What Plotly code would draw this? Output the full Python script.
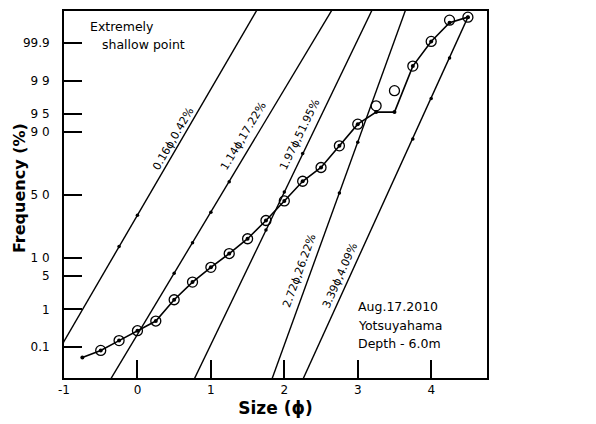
import plotly.graph_objects as go
from statistics import NormalDist

ND = NormalDist()

def z(pcts):
    return [ND.inv_cdf(p / 100.0) for p in pcts]

# ---- data (percent cumulative frequency vs size in phi) ----
size_main = [-0.75, -0.5, -0.25, 0.0, 0.25, 0.5, 0.75, 1.0, 1.25, 1.5, 1.75, 2.0,
             2.25, 2.5, 2.75, 3.0, 3.25, 3.5, 3.75, 4.0, 4.25, 4.5]
freq_main = [0.048, 0.079, 0.154, 0.29, 0.52, 1.66, 3.84, 7.08, 11.7, 18.7, 30.2, 45.2,
             61.0, 71.2, 84.1, 92.5, 95.4, 95.4, 99.56, 99.91, 99.977, 99.985]

size_circ = [-0.5, -0.25, 0.0, 0.25, 0.5, 0.75, 1.0, 1.25, 1.5, 1.75, 2.0,
             2.25, 2.5, 2.75, 3.0, 3.25, 3.5, 3.75, 4.0, 4.25, 4.5]
freq_circ = [0.079, 0.154, 0.29, 0.52, 1.66, 3.84, 7.08, 11.7, 18.7, 30.2, 45.2,
             61.0, 71.2, 84.1, 92.5, 96.5, 98.3, 99.56, 99.91, 99.981, 99.985]

# component populations (mean phi, weight %)
comp_labels = ["0.16ϕ,0.42%", "1.14ϕ,17.22%", "1.97ϕ,51.95%", "2.72ϕ,26.22%", "3.39ϕ,4.09%"]
comp1_size = [-1.1, -0.25, 0.0, 1.75]
comp1_freq = [0.062, 14.7, 34.1, 99.9977]
comp2_size = [-0.4, 0.5, 0.75, 1.0, 1.25, 2.75]
comp2_freq = [0.0064, 5.59, 16.6, 36.3, 60.6, 99.997]
comp3_size = [0.7, 1.75, 2.0, 2.25, 3.3]
comp3_freq = [0.0036, 23.9, 52.4, 80.0, 99.9978]
comp4_size = [1.8, 2.75, 3.0, 3.7]
comp4_freq = [0.0054, 51.6, 85.8, 99.9963]
comp5_size = [2.2, 3.75, 4.0, 4.25, 4.5]
comp5_freq = [0.0044, 87.3, 97.5, 99.73, 99.985]

tick_pcts = [0.1, 1, 5, 10, 50, 90, 95, 99, 99.9]
tick_text = ["0.1", "1", "5", "1 0", "5 0", "9 0", "9 5", "9 9", "99.9"]
x_ticks = [-1, 0, 1, 2, 3, 4]

FONT = "DejaVu Sans"
fig = go.Figure()

comps = [(comp1_size, comp1_freq), (comp2_size, comp2_freq), (comp3_size, comp3_freq),
         (comp4_size, comp4_freq), (comp5_size, comp5_freq)]
for sx, fy in comps:
    fig.add_trace(go.Scatter(x=sx, y=z(fy), mode="lines+markers",
                             line=dict(color="black", width=1.4),
                             marker=dict(size=3.5, color="black"),
                             showlegend=False, hoverinfo="skip"))

fig.add_trace(go.Scatter(x=size_main, y=z(freq_main), mode="lines+markers",
                         line=dict(color="black", width=1.6),
                         marker=dict(size=4, color="black"),
                         showlegend=False))
fig.add_trace(go.Scatter(x=size_circ, y=z(freq_circ), mode="markers",
                         marker=dict(size=10, color="rgba(0,0,0,0)",
                                     line=dict(color="black", width=1.3)),
                         showlegend=False))

# rotated component labels (positions/angles are styling)
lab_pos = [(0.49, 1.15, -60), (1.44, 1.19, -59), (2.21, 1.23, -64),
           (2.21, -1.54, -70), (2.76, -1.64, -66)]
for txt, (ax_, ay_, ang) in zip(comp_labels, lab_pos):
    fig.add_annotation(x=ax_, y=ay_, xref="x", yref="y", text=txt, showarrow=False,
                       textangle=ang, font=dict(family=FONT, size=11, color="black"))

def ann(text, px, py, size=12.5, anchor="left", angle=0, bold=False):
    fig.add_annotation(x=(px - 64) / 423, y=(380 - py) / 371, xref="paper", yref="paper",
                       text=f"<b>{text}</b>" if bold else text, showarrow=False,
                       xanchor=anchor, yanchor="middle", textangle=angle,
                       font=dict(family=FONT, size=size, color="black"))

ann("Extremely", 88, 25)
ann("shallow point", 100, 43)
ann("Aug.17.2010", 356, 308)
ann("Yotsuyahama", 356, 327)
ann("Depth - 6.0m", 356, 345)
ann("Frequency (%)", 19, 188, size=16, anchor="center", angle=-90, bold=True)

fig.update_layout(
    width=596, height=424,
    margin=dict(l=64, r=109, t=9, b=44),
    paper_bgcolor="white", plot_bgcolor="white",
    font=dict(family=FONT, color="black"),
    xaxis=dict(range=[-1.0, 4.76], tickvals=x_ticks, ticktext=[str(v) for v in x_ticks],
               ticks="inside", ticklen=18, tickwidth=2, tickcolor="black",
               showline=True, linewidth=2, linecolor="black", mirror=True,
               showgrid=False, zeroline=False,
               tickfont=dict(size=12, family=FONT),
               title=dict(text="<b>Size (ϕ)</b>", font=dict(size=17, family=FONT), standoff=6)),
    yaxis=dict(range=[-3.72, 3.74], tickvals=z(tick_pcts), ticktext=tick_text,
               ticks="inside", ticklen=18, tickwidth=2, tickcolor="black",
               showline=True, linewidth=2, linecolor="black", mirror=True,
               showgrid=False, zeroline=False, ticklabelstandoff=10,
               tickfont=dict(size=12, family=FONT)),
)

fig.write_html("out.html")
